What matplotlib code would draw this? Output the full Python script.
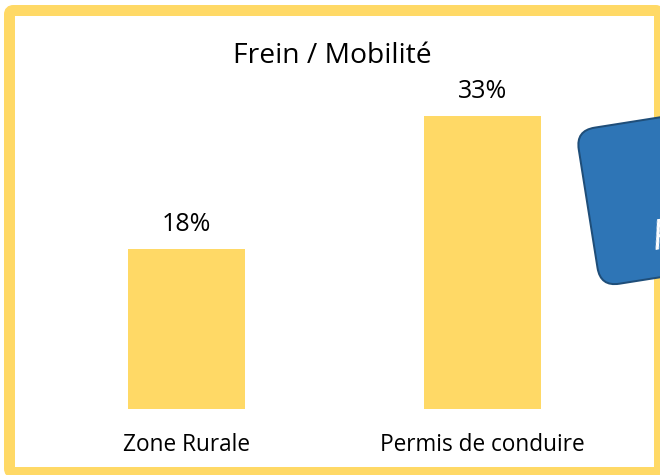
import matplotlib
matplotlib.use("Agg")
import matplotlib.pyplot as plt
from matplotlib.patches import FancyBboxPatch
from matplotlib.transforms import Affine2D

categories = ["Zone Rurale", "Permis de conduire"]
values = [18, 33]
value_labels = ["18%", "33%"]
title = "Frein / Mobilité"
callout_text = "P"

W, H = 660, 475
DPI = 100
YELLOW = "#FFD966"
BLUE = "#2E75B6"
BLUE_EDGE = "#1F4E79"
FONT = "Open Sans"

fig = plt.figure(figsize=(W / DPI, H / DPI), dpi=DPI)
fig.patch.set_facecolor("white")

# pixel transform (origin top-left, y down)
pix = Affine2D().scale(1, -1).translate(0, H)

# yellow frame (behind the callout box)
frame = FancyBboxPatch((9.5, 10.5), 650, 462, boxstyle="round,pad=0,rounding_size=4",
                       transform=pix, facecolor="none", edgecolor=YELLOW,
                       linewidth=11 * 72 / DPI, zorder=0)
fig.patches.append(frame)

# axes
left_px, right_px = 38.5, 630.5
bottom_px = 409
px_per_unit = 8.89
ymax = 40
top_px = bottom_px - ymax * px_per_unit
ax = fig.add_axes([left_px / W, (H - bottom_px) / H, (right_px - left_px) / W,
                   (bottom_px - top_px) / H])
ax.set_zorder(2)
ax.set_xlim(-0.5, 1.5)
ax.set_ylim(0, ymax)
ax.patch.set_alpha(0)
for s in ax.spines.values():
    s.set_visible(False)
ax.set_yticks([])
x = list(range(len(categories)))
bars = ax.bar(x, values, width=117 / 296, color=YELLOW, zorder=2)
ax.set_xticks(x)
ax.set_xticklabels(categories, fontsize=16.3, family=FONT, color="black")
ax.tick_params(axis="x", length=0, pad=17)

for xi, v, lab in zip(x, values, value_labels):
    ax.annotate(lab, (xi, v), xytext=(0, 13), textcoords="offset points",
                ha="center", va="baseline", fontsize=18, family=FONT, color="black")

fig.text(332 / W, 1 - 63 / H, title, ha="center", va="baseline",
         fontsize=20.3, family=FONT, color="black")

# blue callout box (rotated rounded rectangle), drawn over the frame
box_tr = Affine2D().rotate_deg(9).translate(600.5, H - 286.7)
box = FancyBboxPatch((0, 0), 220, 158, boxstyle="round,pad=0,rounding_size=19",
                     transform=box_tr, facecolor=BLUE, edgecolor=BLUE_EDGE,
                     linewidth=2 * 72 / DPI, zorder=5)
fig.patches.append(box)
fig.text(653 / W, 1 - 250 / H, callout_text, ha="left", va="baseline",
         rotation=9, rotation_mode="anchor", fontsize=30, style="italic",
         family=FONT, color="white", zorder=6)

fig.savefig("out.png", dpi=DPI, facecolor="white")
